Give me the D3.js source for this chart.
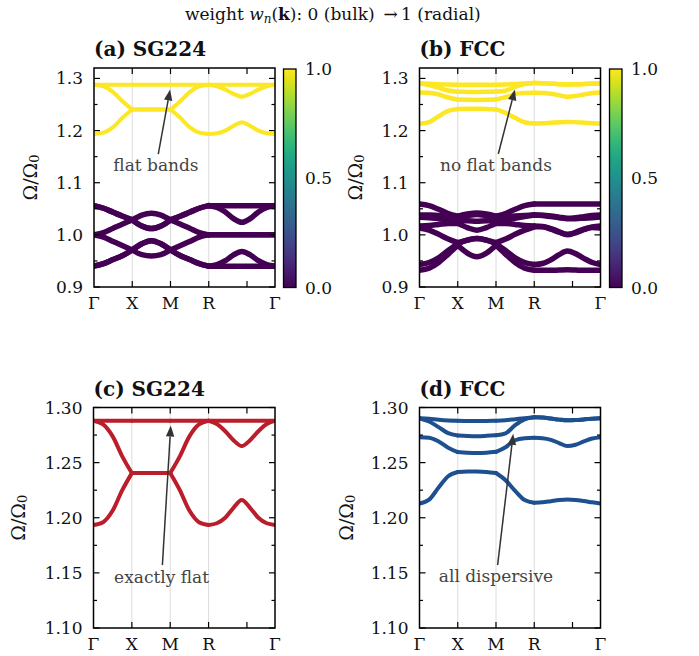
<!DOCTYPE html>
<html><head><meta charset="utf-8">
<script src="https://cdn.jsdelivr.net/npm/d3@7"></script>
<style>
body{margin:0;background:#fff}
svg{display:block}
text{font-family:"DejaVu Serif",serif;fill:#111}
</style></head>
<body><svg id="chart" width="699" height="656"></svg>
<script>
// ---------------- data ----------------
const kTicks = [0, 0.5, 1.0, 1.5, 2.366];
const kLabels = ["Γ", "X", "M", "R", "Γ"];
const kInnerTicks = [0.5, 1.0, 1.5, 2.0];
const kGrid = [0, 0.125, 0.25, 0.375, 0.5, 0.625, 0.75, 0.875, 1.0, 1.125, 1.25, 1.375, 1.5,
               1.608, 1.717, 1.825, 1.933, 2.041, 2.149, 2.258, 2.366];
const segmentStarts = [0, 4, 8, 12];   // Γ, X, M, R indices in kGrid
const segmentEnds = [4, 8, 12, 20];

// SG224 radial (upper) bands
const sgFlat = [1.288,1.288,1.288,1.288,1.288, 1.288,1.288,1.288,1.288, 1.288,1.288,1.288,1.288, 1.288,1.288,1.288,1.288,1.288,1.288,1.288,1.288];
const sgMid  = [1.288,1.2847,1.2738,1.2557,1.2405, 1.2405,1.2405,1.2405,1.2405, 1.2557,1.2738,1.2847,1.288, 1.285,1.2785,1.2703,1.265,1.2703,1.2785,1.285,1.288];
const sgLow  = [1.1935,1.196,1.2065,1.225,1.2405, 1.2405,1.2405,1.2405,1.2405, 1.225,1.2065,1.196,1.1935, 1.195,1.2,1.209,1.216,1.209,1.2,1.195,1.1935];
// SG224 bulk (lower) bands
const sgBulk1 = [1.056,1.051,1.0433,1.0356,1.0286, 1.017,1.012,1.017,1.0286, 1.0356,1.0433,1.051,1.056, 1.056,1.056,1.056,1.056,1.056,1.056,1.056,1.056];
const sgBulk2 = [1.056,1.051,1.0433,1.0356,1.0286, 1.017,1.012,1.017,1.0286, 1.0356,1.0433,1.051,1.056, 1.0525,1.044,1.031,1.024,1.031,1.044,1.0525,1.056];
const sgBulk3 = [1.0,1.0043,1.0126,1.0209,1.0286, 1.038,1.0414,1.038,1.0286, 1.0209,1.0126,1.0043,1.0, 1.0,1.0,1.0,1.0,1.0,1.0,1.0,1.0];
const sgBulk4 = [1.0,0.9957,0.9874,0.9791,0.971, 0.962,0.9595,0.962,0.971, 0.9791,0.9874,0.9957,1.0, 1.0,1.0,1.0,1.0,1.0,1.0,1.0,1.0];
const sgBulk5 = [0.940,0.945,0.9527,0.9604,0.971, 0.983,0.9889,0.983,0.971, 0.9604,0.9527,0.945,0.940, 0.940,0.940,0.940,0.940,0.940,0.940,0.940,0.940];
const sgBulk6 = [0.940,0.945,0.9527,0.9604,0.971, 0.983,0.9889,0.983,0.971, 0.9604,0.9527,0.945,0.940, 0.943,0.9504,0.9616,0.968,0.9616,0.9504,0.943,0.940];

// FCC radial (upper) bands
const fcc1 = [1.2903,1.2897,1.2888,1.2882,1.2880, 1.2878,1.2877,1.2878,1.2880, 1.2885,1.2894,1.2903,1.2911, 1.2909,1.2900,1.2890,1.2884,1.2886,1.2892,1.2898,1.2903];
const fcc2 = [1.2903,1.2873,1.2822,1.2767,1.2746, 1.2742,1.2740,1.2743,1.2748, 1.2765,1.2840,1.2893,1.2911, 1.2909,1.2900,1.2890,1.2884,1.2886,1.2892,1.2898,1.2903];
const fcc3 = [1.2731,1.2726,1.2692,1.2635,1.2596, 1.2590,1.2587,1.2590,1.2598, 1.2640,1.2703,1.2722,1.2726, 1.2722,1.2707,1.2677,1.2650,1.2662,1.2692,1.2719,1.2731];
const fcc4 = [1.2130,1.2164,1.2274,1.2376,1.2415, 1.2419,1.2420,1.2416,1.2406, 1.2340,1.2244,1.2160,1.2136, 1.2140,1.2150,1.2160,1.2165,1.2162,1.2152,1.2140,1.2130];
// FCC bulk (lower) bands
const fccBulk1 = [1.059,1.056,1.049,1.041,1.036, 1.040,1.042,1.040,1.036, 1.041,1.049,1.056,1.059, 1.059,1.059,1.059,1.059,1.059,1.059,1.059,1.059];
const fccBulk2 = [1.038,1.038,1.037,1.036,1.034, 1.037,1.039,1.037,1.034, 1.035,1.036,1.037,1.038, 1.0375,1.036,1.034,1.032,1.033,1.035,1.037,1.038];
const fccBulk3 = [1.034,1.033,1.031,1.029,1.027, 1.027,1.026,1.027,1.027, 1.029,1.032,1.035,1.038, 1.037,1.035,1.033,1.031,1.031,1.032,1.033,1.034];
const fccBulk4 = [1.017,1.018,1.020,1.022,1.022, 1.014,1.009,1.014,1.022, 1.022,1.020,1.018,1.017, 1.016,1.012,1.006,1.000,1.005,1.011,1.015,1.017];
const fccBulk5 = [1.013,1.009,1.001,0.992,0.985, 0.990,0.993,0.990,0.985, 0.992,1.001,1.009,1.0155, 1.0155,1.011,1.005,1.001,1.004,1.010,1.014,1.013];
const fccBulk6 = [0.943,0.947,0.956,0.970,0.983, 0.990,0.993,0.990,0.983, 0.970,0.956,0.947,0.943, 0.945,0.952,0.962,0.969,0.964,0.955,0.947,0.943];
const fccBulk7 = [0.932,0.936,0.947,0.963,0.980, 0.965,0.958,0.965,0.980, 0.963,0.947,0.936,0.932, 0.932,0.932,0.9325,0.933,0.9325,0.932,0.932,0.932];

const yMajorWide = [0.9, 1.0, 1.1, 1.2, 1.3];
const yMinorWide = [0.95, 1.05, 1.15, 1.25];
const yMajorZoom = [1.10, 1.15, 1.20, 1.25, 1.30];
const yMinorZoom = [1.125, 1.175, 1.225, 1.275];
const cbTicks = [0.0, 0.5, 1.0];

const panelTitles = ["(a) SG224", "(b) FCC", "(c) SG224", "(d) FCC"];
const annotTexts = ["flat bands", "no flat bands", "exactly flat", "all dispersive"];

// ---------------- drawing ----------------
const svg = d3.select("#chart");
const YELLOW = d3.interpolateViridis(1), PURPLE = d3.interpolateViridis(0);
const RED = "#bb1e2b", BLUE = "#1e4f8f";

const defs = svg.append("defs");
const grad = defs.append("linearGradient").attr("id", "viridis")
  .attr("x1", 0).attr("y1", 1).attr("x2", 0).attr("y2", 0);
d3.range(0, 1.0001, 0.05).forEach(t => grad.append("stop")
  .attr("offset", t).attr("stop-color", d3.interpolateViridis(t)));

// suptitle
const st = svg.append("text").attr("x", 185).attr("y", 20).style("font-size", "17px");
st.append("tspan").text("weight ");
st.append("tspan").style("font-style", "italic").text("w");
st.append("tspan").style("font-style", "italic").style("font-size", "12px").attr("dy", 3).text("n");
st.append("tspan").attr("dy", -3).text("(");
st.append("tspan").style("font-weight", "bold").text("k");
st.append("tspan").text("): 0 (bulk) \u2009\u2192\u20091 (radial)");

const panels = [
  {title: panelTitles[0], left: 94, top: 68, w: 181, h: 219, dom: [0.9, 1.32], major: yMajorWide, minor: yMinorWide, fmt: ".1f",
   bands: [[sgBulk1, PURPLE, 5.5], [sgBulk2, PURPLE, 5.5], [sgBulk3, PURPLE, 5.5], [sgBulk4, PURPLE, 5.5], [sgBulk5, PURPLE, 5.5], [sgBulk6, PURPLE, 5.5],
           [sgFlat, YELLOW, 4], [sgMid, YELLOW, 4], [sgLow, YELLOW, 4]],
   cb: {x: 283.5, w: 12.5}, ylabX: 30,
   ann: {text: annotTexts[0], tk: 0.81, tv: 1.1225, fk: 0.84, fv: 1.155, hk: 0.995, hv: 1.279}},
  {title: panelTitles[1], left: 419.5, top: 68, w: 181, h: 219, dom: [0.9, 1.32], major: yMajorWide, minor: yMinorWide, fmt: ".1f",
   bands: [[fccBulk1, PURPLE, 5.5], [fccBulk2, PURPLE, 5.5], [fccBulk3, PURPLE, 5.5], [fccBulk4, PURPLE, 5.5], [fccBulk5, PURPLE, 5.5], [fccBulk6, PURPLE, 5.5], [fccBulk7, PURPLE, 5.5],
           [fcc1, YELLOW, 4.5], [fcc2, YELLOW, 4.5], [fcc3, YELLOW, 4.5], [fcc4, YELLOW, 4.5]],
   cb: {x: 609.5, w: 12.5}, ylabX: 355,
   ann: {text: annotTexts[1], tk: 0.999, tv: 1.1225, fk: 1.03, fv: 1.155, hk: 1.247, hv: 1.279}},
  {title: panelTitles[2], left: 93.5, top: 407.5, w: 181.5, h: 220.5, dom: [1.10, 1.30], major: yMajorZoom, minor: yMinorZoom, fmt: ".2f",
   bands: [[sgFlat, RED, 4], [sgMid, RED, 4], [sgLow, RED, 4]],
   cb: null, ylabX: 18,
   ann: {text: annotTexts[2], tk: 0.887, tv: 1.1405, fk: 0.898, fv: 1.157, hk: 1.007, hv: 1.2837}},
  {title: panelTitles[3], left: 419.5, top: 407.5, w: 181, h: 220.5, dom: [1.10, 1.30], major: yMajorZoom, minor: yMinorZoom, fmt: ".2f",
   bands: [[fcc1, BLUE, 4], [fcc2, BLUE, 4], [fcc3, BLUE, 4], [fcc4, BLUE, 4]],
   cb: null, ylabX: 346,
   ann: {text: annotTexts[3], tk: 1.0, tv: 1.1415, fk: 1.021, fv: 1.157, hk: 1.225, hv: 1.2762}}
];

panels.forEach((p, pi) => {
  const g = svg.append("g");
  const bottom = p.top + p.h;
  const x = d3.scaleLinear().domain([kTicks[0], kTicks[kTicks.length - 1]]).range([p.left, p.left + p.w]);
  const y = d3.scaleLinear().domain(p.dom).range([bottom, p.top]);
  const cid = "clip" + pi;
  defs.append("clipPath").attr("id", cid).append("rect")
    .attr("x", p.left).attr("y", p.top).attr("width", p.w).attr("height", p.h);

  // grid lines at high-symmetry points
  g.selectAll("line.grid").data(kTicks.slice(1, -1)).join("line")
    .attr("x1", d => x(d)).attr("x2", d => x(d)).attr("y1", p.top).attr("y2", bottom)
    .attr("stroke", "#dcdcdc").attr("stroke-width", 1);

  // bands
  const bg = g.append("g").attr("clip-path", `url(#${cid})`);
  p.bands.forEach(([vals, col, sw]) => {
    segmentStarts.forEach((s, si) => {
      const idx = d3.range(s, segmentEnds[si] + 1);
      const line = d3.line().x(i => x(kGrid[i])).y(i => y(vals[i])).curve(d3.curveMonotoneX);
      bg.append("path").attr("d", line(idx)).attr("fill", "none")
        .attr("stroke", col).attr("stroke-width", sw).attr("stroke-linecap", "round");
    });
  });

  // frame
  g.append("rect").attr("x", p.left).attr("y", p.top).attr("width", p.w).attr("height", p.h)
    .attr("fill", "none").attr("stroke", "#000").attr("stroke-width", 1.5);

  // y ticks (inward both sides)
  const tickG = g.append("g").attr("stroke", "#000").attr("stroke-width", 1.2);
  p.major.forEach(v => {
    tickG.append("line").attr("x1", p.left).attr("x2", p.left + 6).attr("y1", y(v)).attr("y2", y(v));
    tickG.append("line").attr("x1", p.left + p.w).attr("x2", p.left + p.w - 6).attr("y1", y(v)).attr("y2", y(v));
  });
  p.minor.forEach(v => {
    tickG.append("line").attr("x1", p.left).attr("x2", p.left + 3.5).attr("y1", y(v)).attr("y2", y(v));
    tickG.append("line").attr("x1", p.left + p.w).attr("x2", p.left + p.w - 3.5).attr("y1", y(v)).attr("y2", y(v));
  });
  kInnerTicks.forEach(k => {
    tickG.append("line").attr("x1", x(k)).attr("x2", x(k)).attr("y1", bottom).attr("y2", bottom - 6);
    tickG.append("line").attr("x1", x(k)).attr("x2", x(k)).attr("y1", p.top).attr("y2", p.top + 6);
  });

  // y tick labels
  const fmt = d3.format(p.fmt);
  g.selectAll("text.yt").data(p.major).join("text")
    .attr("x", p.left - 11).attr("y", d => y(d)).attr("text-anchor", "end")
    .attr("dominant-baseline", "central").style("font-size", "17px").text(d => fmt(d));
  // x tick labels
  g.selectAll("text.xt").data(kTicks).join("text")
    .attr("x", d => x(d)).attr("y", bottom + 22).attr("text-anchor", "middle")
    .style("font-size", "17px").text((d, i) => kLabels[i]);

  // y label
  const yl = g.append("text").attr("transform", `translate(${p.ylabX},${(p.top + bottom) / 2}) rotate(-90)`)
    .attr("text-anchor", "middle").attr("dominant-baseline", "central").style("font-size", "19px");
  yl.append("tspan").text("Ω/Ω");
  yl.append("tspan").attr("dy", 4).style("font-size", "13px").text("0");

  // title
  g.append("text").attr("x", p.left).attr("y", p.top - 12).style("font-size", "20px")
    .style("font-weight", "bold").text(p.title);

  // annotation
  const a = p.ann;
  const fx = x(a.fk), fy = y(a.fv), hx = x(a.hk), hy = y(a.hv);
  const ang = Math.atan2(hy - fy, hx - fx);
  const L = 11, W = 4.2;
  const bx = hx - L * Math.cos(ang), by = hy - L * Math.sin(ang);
  g.append("line").attr("x1", fx).attr("y1", fy).attr("x2", bx).attr("y2", by)
    .attr("stroke", "#333").attr("stroke-width", 1.5);
  g.append("path").attr("d", `M${hx},${hy} L${bx - W * Math.sin(ang)},${by + W * Math.cos(ang)} L${bx + W * Math.sin(ang)},${by - W * Math.cos(ang)} Z`)
    .attr("fill", "#333");
  g.append("text").attr("x", x(a.tk)).attr("y", y(a.tv)).attr("text-anchor", "middle")
    .style("font-size", "17px").style("fill", "#444").text(a.text);

  // colorbar
  if (p.cb) {
    const cy = d3.scaleLinear().domain([0, 1]).range([bottom + 0.5, p.top + 1]);
    g.append("rect").attr("x", p.cb.x).attr("y", cy(1)).attr("width", p.cb.w).attr("height", cy(0) - cy(1))
      .attr("fill", "url(#viridis)").attr("stroke", "#000").attr("stroke-width", 1.3);
    g.selectAll("text.cb").data(cbTicks).join("text")
      .attr("x", p.cb.x + p.cb.w + 9).attr("y", d => cy(d)).attr("dominant-baseline", "central")
      .style("font-size", "17px").text(d => d3.format(".1f")(d));
  }
});
</script></body></html>
